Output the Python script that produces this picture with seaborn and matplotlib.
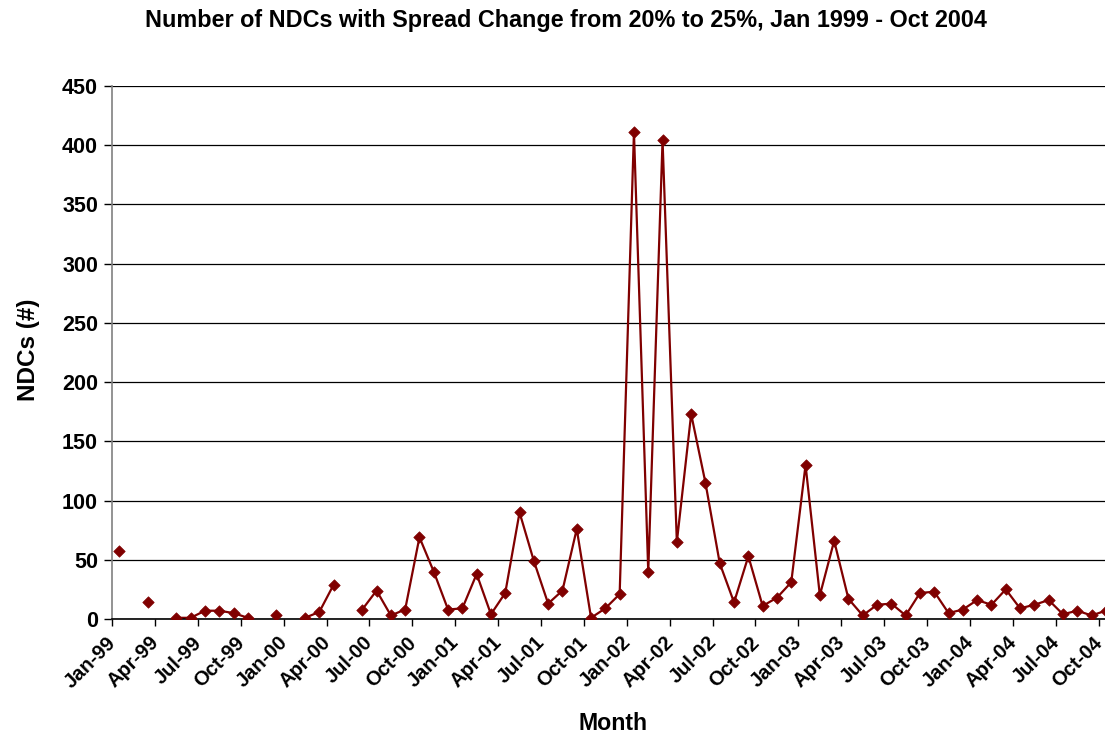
import numpy as np
import pandas as pd
import matplotlib
matplotlib.use('Agg')
import matplotlib.pyplot as plt
import matplotlib.transforms as mtransforms
import seaborn as sns

# ----------------------------------------------------------------------------
# DATA (monthly counts, Jan 1999 - Oct 2004; NaN = no value that month)
# ----------------------------------------------------------------------------
nan = np.nan
months = pd.date_range('1999-01-01', '2004-10-01', freq='MS')
ndc_counts = [57, nan, 14, nan, 1, 1, 7, 7, 5, 1, nan, 3,
              nan, 1, 6, 29, nan, 8, 24, 3, 8, 69, 40, 8,
              9, 38, 4, 22, 90, 49, 13, 24, 76, 1, 9, 21,
              411, 40, 404, 65, 173, 115, 47, 14, 53, 11, 18, 31,
              130, 20, 66, 17, 3, 12, 13, 3, 22, 23, 5, 8,
              16, 12, 25, 9, 12, 16, 4, 7, 3, 7]
y_ticks = list(range(0, 451, 50))

title = 'Number of NDCs with Spread Change from 20% to 25%, Jan 1999 - Oct 2004'
x_title = 'Month'
y_title = 'NDCs (#)'

line_color = '#800000'

# ----------------------------------------------------------------------------
# PREP
# ----------------------------------------------------------------------------
df = pd.DataFrame({'idx': np.arange(len(months)), 'count': ndc_counts})
# gaps break the line (Excel "show empty cells as gaps")
df['segment'] = df['count'].isna().cumsum()
df_valid = df.dropna()

tick_pos = list(range(0, len(months), 3))
tick_labels = [months[i].strftime('%b-%y') for i in tick_pos]

# ----------------------------------------------------------------------------
# PLOT
# ----------------------------------------------------------------------------
sns.set_style('white')
plt.rcParams['font.family'] = ['Liberation Sans', 'DejaVu Sans']
plt.rcParams['font.weight'] = 'bold'
plt.rcParams['text.color'] = 'black'
plt.rcParams['xtick.color'] = 'black'
plt.rcParams['ytick.color'] = 'black'

fig = plt.figure(figsize=(11.05, 7.37), dpi=100)
W, H = 1105, 737
# plot area runs a little past the right edge, like the cropped original
ax = fig.add_axes([112 / W, (H - 619) / H, 1001 / W, 533 / H])

sns.lineplot(data=df_valid, x='idx', y='count', units='segment', estimator=None,
             color=line_color, linewidth=1.6, ax=ax, legend=False)
sns.scatterplot(data=df_valid, x='idx', y='count', marker='D', s=34,
                color=line_color, edgecolor=line_color, linewidth=0.5,
                ax=ax, legend=False, zorder=4)

ax.set_yticks(y_ticks)
ax.set_yticklabels([str(v) for v in y_ticks], fontsize=15.5, fontweight='bold')

# ticks sit on the category boundaries, every 3 months
ax.set_xticks([p - 0.5 for p in tick_pos])
ax.set_xticklabels(tick_labels, rotation=45, ha='right', rotation_mode='anchor',
                   fontsize=14.5, fontweight='bold')
ax.tick_params(axis='x', length=5, width=1, color='black', direction='out',
               bottom=True, pad=5)
ax.tick_params(axis='y', length=6, width=1, color='black', direction='out',
               left=True, pad=4)
# nudge the rotated labels left so their ends meet the ticks
shift = mtransforms.ScaledTranslation(-6 / 100, 0, fig.dpi_scale_trans)
for lbl in ax.get_xticklabels():
    lbl.set_transform(lbl.get_transform() + shift)

# limits after the ticks, so tick positions don't widen the view
ax.set_xlim(-0.5, len(months) - 0.5)
ax.set_ylim(0, 450)

ax.yaxis.grid(True, color='black', linewidth=0.9)
ax.xaxis.grid(False)
ax.set_axisbelow(True)
for side in ['top', 'right']:
    ax.spines[side].set_visible(False)
ax.spines['left'].set_color('#808080')
ax.spines['left'].set_linewidth(1.2)
ax.spines['bottom'].set_color('black')
ax.spines['bottom'].set_linewidth(1.2)

ax.set_xlabel('')
ax.set_ylabel('')
fig.text(566 / W, 1 - 21 / H, title, ha='center', va='center',
         fontsize=16.8, fontweight='bold')
fig.text(613 / W, 1 - 723 / H, x_title, ha='center', va='center',
         fontsize=16.7, fontweight='bold')
fig.text(28 / W, 1 - 350 / H, y_title, ha='center', va='center', rotation=90,
         fontsize=17.5, fontweight='bold')

plt.savefig('out.png', dpi=100)
plt.close()
